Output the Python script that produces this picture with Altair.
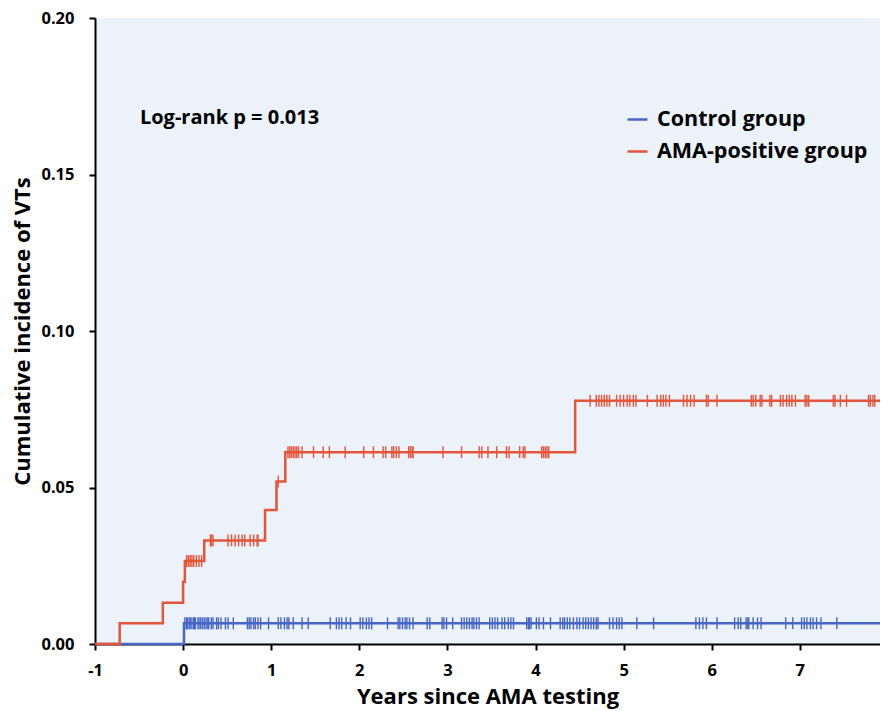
import altair as alt
import pandas as pd

# Step curves (x = years since AMA testing, y = cumulative incidence)
ama_x = [-1.0, -0.72, -0.23, 0.0, 0.02, 0.24, 0.93, 1.06, 1.16, 4.45, 8.0]
ama_y = [0.0, 0.0066, 0.0132, 0.0199, 0.0265, 0.0331, 0.0428, 0.0519, 0.0613, 0.0777, 0.0777]
ctrl_x = [-1.0, 0.01, 8.0]
ctrl_y = [0.0, 0.0066, 0.0066]

# Censoring marks
ama_cens_x = [0.04, 0.06, 0.08, 0.10, 0.12, 0.15, 0.18, 0.21,
              0.31, 0.32, 0.34, 0.51, 0.55, 0.59, 0.63, 0.67, 0.70, 0.76, 0.80, 0.84, 0.85,
              1.08,
              1.19, 1.21, 1.23, 1.25, 1.27, 1.29, 1.31, 1.35, 1.48, 1.59, 1.66, 1.84, 2.05, 2.16,
              2.27, 2.30, 2.37, 2.39, 2.42, 2.45, 2.56, 2.58, 2.60, 2.61, 2.95, 3.16, 3.36, 3.39,
              3.46, 3.56, 3.67, 3.70, 3.82, 3.86, 3.88, 4.07, 4.09, 4.11, 4.13, 4.15,
              4.62, 4.69, 4.72, 4.75, 4.78, 4.81, 4.84, 4.92, 4.96, 5.00, 5.04, 5.07, 5.11, 5.14,
              5.27, 5.38, 5.42, 5.45, 5.48, 5.52, 5.68, 5.72, 5.76, 5.80, 5.94, 5.96, 6.06,
              6.45, 6.47, 6.50, 6.55, 6.57, 6.66, 6.68, 6.78, 6.81, 6.85, 6.88, 6.91, 6.95,
              7.06, 7.08, 7.10, 7.38, 7.40, 7.46, 7.53, 7.78, 7.80, 7.83, 7.85]
ama_cens_y = [0.0265] * 8 + [0.0331] * 13 + [0.0519] + [0.0613] * 40 + [0.0777] * 51

ctrl_cens_x = [0.02, 0.04, 0.05, 0.07, 0.08, 0.10, 0.12, 0.13, 0.14, 0.17, 0.18, 0.20, 0.22,
               0.24, 0.26, 0.28, 0.29, 0.32, 0.34, 0.38, 0.40, 0.43, 0.48, 0.51, 0.57,
               0.73, 0.75, 0.77, 0.80, 0.82, 0.85, 0.88, 0.97, 1.08, 1.11, 1.15, 1.18, 1.20,
               1.25, 1.35, 1.42, 1.67, 1.74, 1.77, 1.80, 1.85, 1.90, 2.01, 2.04, 2.08, 2.11,
               2.14, 2.32, 2.44, 2.46, 2.49, 2.52, 2.54, 2.57, 2.61, 2.77, 2.80, 2.94, 2.96,
               2.99, 3.06, 3.16, 3.19, 3.22, 3.25, 3.28, 3.30, 3.33, 3.36, 3.48, 3.51, 3.54,
               3.57, 3.62, 3.65, 3.69, 3.72, 3.75, 3.90, 3.92, 3.93, 3.95, 4.01, 4.04, 4.09,
               4.17, 4.28, 4.31, 4.33, 4.36, 4.39, 4.43, 4.47, 4.50, 4.54, 4.57, 4.60, 4.63,
               4.66, 4.69, 4.71, 4.84, 4.88, 4.92, 4.95, 4.98, 5.15, 5.34,
               5.82, 5.86, 5.90, 5.94, 6.06, 6.26, 6.30, 6.33, 6.39, 6.41, 6.42, 6.47, 6.52,
               6.56, 6.84, 6.92, 7.02, 7.05, 7.08, 7.12, 7.15, 7.19, 7.24, 7.42]
ctrl_cens_y = [0.0066] * len(ctrl_cens_x)

groups = ["Control group", "AMA-positive group"]
colors = ["#4766C4", "#E4553A"]
x_ticks = [-1, 0, 1, 2, 3, 4, 5, 6, 7, 8]
y_ticks = [0.0, 0.05, 0.10, 0.15, 0.20]

annot_text = ["Log-rank p = 0.013"]
annot_x = [-0.49]
annot_y = [0.168]

curves = pd.concat([
    pd.DataFrame({"x": ctrl_x, "y": ctrl_y, "group": groups[0]}),
    pd.DataFrame({"x": ama_x, "y": ama_y, "group": groups[1]}),
])
cens = pd.concat([
    pd.DataFrame({"x": ctrl_cens_x, "y": ctrl_cens_y, "group": groups[0]}),
    pd.DataFrame({"x": ama_cens_x, "y": ama_cens_y, "group": groups[1]}),
])
annot = pd.DataFrame({"x": annot_x, "y": annot_y, "t": annot_text})

FONT = "Open Sans"

# visible part of the x range (the figure is cut at the right edge just before 8)
xscale = alt.Scale(domain=[-1, 7.91], nice=False, zero=False)
yscale = alt.Scale(domain=[0, 0.2], nice=False)
cscale = alt.Scale(domain=groups, range=colors)
legend = alt.Legend(
    title=None, orient="none", legendX=531, legendY=90,
    symbolType="stroke", symbolSize=400, symbolStrokeWidth=2.5,
    labelFont=FONT, labelFontSize=21.5, labelFontWeight="bold", labelColor="black",
    labelOffset=8, rowPadding=10, padding=0, labelLimit=400,
)

xax = alt.Axis(values=x_ticks, title="Years since AMA testing", grid=False,
               labelFlush=False, labelExpr="'' + datum.value")
yax = alt.Axis(values=y_ticks, format=".2f", title="Cumulative incidence of VTs", grid=False)


def curve(g):
    return alt.Chart(curves[curves.group == g]).mark_line(
        interpolate="step-after", strokeWidth=2.5, clip=False
    ).encode(
        x=alt.X("x:Q", scale=xscale, axis=xax),
        y=alt.Y("y:Q", scale=yscale, axis=yax),
        color=alt.Color("group:N", scale=cscale, legend=legend),
    )


def ticks(g):
    return alt.Chart(cens[cens.group == g]).mark_tick(
        orient="vertical", size=12, thickness=1.4, opacity=1
    ).encode(
        x=alt.X("x:Q", scale=xscale),
        y=alt.Y("y:Q", scale=yscale),
        color=alt.Color("group:N", scale=cscale, legend=legend),
    )


text = alt.Chart(annot).mark_text(
    align="left", baseline="middle", font=FONT, fontSize=20, fontWeight="bold", color="black"
).encode(
    x=alt.X("x:Q", scale=xscale),
    y=alt.Y("y:Q", scale=yscale),
    text="t:N",
)

chart = alt.layer(curve(groups[0]), ticks(groups[0]), curve(groups[1]), ticks(groups[1]), text).properties(
    width=785, height=626,
    autosize=alt.AutoSizeParams(type="none"),
    padding={"left": 87, "top": 10, "right": 0, "bottom": 65},
).configure_view(
    fill="#EBF2FA", stroke=None
).configure_axis(
    domainColor="black", domainWidth=2, tickColor="black", tickWidth=2, tickSize=6,
    labelFont=FONT, labelFontSize=16.5, labelFontWeight="bold", labelColor="black",
    titleFont=FONT, titleFontSize=22, titleFontWeight="bold", titleColor="black",
).configure_axisX(
    labelPadding=12, titlePadding=8
).configure_axisY(
    labelPadding=15, titlePadding=6
)

chart.save("out.html", embed_options={"renderer": "svg", "actions": False})
